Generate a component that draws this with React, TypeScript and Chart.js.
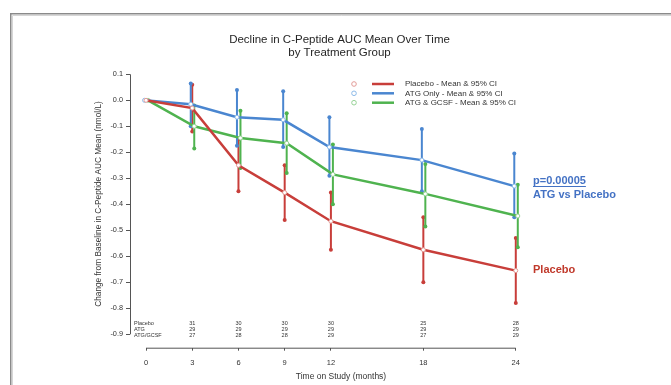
import React, { useEffect, useRef } from "react";
import { Chart, registerables } from "chart.js";

Chart.register(...registerables);

// ---------- data ----------
const months = [0, 3, 6, 9, 12, 18, 24];
const xTickValues = [0, 3, 6, 9, 12, 18, 24];
const yTickValues = [0.1, 0, -0.1, -0.2, -0.3, -0.4, -0.5, -0.6, -0.7, -0.8, -0.9];

const seriesLabels = [
  "Placebo - Mean & 95% CI",
  "ATG Only - Mean & 95% CI",
  "ATG & GCSF - Mean & 95% CI",
];

const placeboMean = [0, -0.03, -0.25, -0.355, -0.465, -0.575, -0.655];
const placeboUpper = [0, 0.06, -0.15, -0.25, -0.355, -0.45, -0.53];
const placeboLower = [0, -0.12, -0.35, -0.46, -0.575, -0.7, -0.78];

const atgMean = [0, -0.015, -0.065, -0.075, -0.18, -0.23, -0.33];
const atgUpper = [0, 0.065, 0.04, 0.035, -0.065, -0.11, -0.205];
const atgLower = [0, -0.1, -0.175, -0.18, -0.29, -0.35, -0.45];

const gcsfMean = [0, -0.1, -0.145, -0.165, -0.285, -0.36, -0.445];
const gcsfUpper = [0, -0.02, -0.04, -0.05, -0.17, -0.245, -0.325];
const gcsfLower = [0, -0.185, -0.26, -0.28, -0.4, -0.485, -0.565];

const riskRowLabels = ["Placebo", "ATG", "ATG/GCSF"];
const nPlacebo = [null, 31, 30, 30, 30, 25, 28];
const nAtg = [null, 29, 29, 29, 29, 29, 29];
const nGcsf = [null, 27, 28, 28, 29, 27, 29];

const titleLines = ["Decline in C-Peptide AUC Mean Over Time", "by Treatment Group"];
const yAxisTitle = "Change from Baseline in C-Peptide AUC Mean (nmol/L)";
const xAxisTitle = "Time on Study (months)";
const pValueText = "p=0.00005";
const comparisonText = "ATG vs Placebo";
const placeboTag = "Placebo";

// ---------- styles ----------
const FONT = '"Liberation Sans", Arial, sans-serif';
const COLORS = ["#c83e3a", "#4a86d0", "#4fb34f"];
const LIGHT = ["#e39b97", "#8dbbea", "#97d397"];
const DX = [0, -1.5, 2];

const series = [
  { label: seriesLabels[0], mean: placeboMean, upper: placeboUpper, lower: placeboLower },
  { label: seriesLabels[1], mean: atgMean, upper: atgUpper, lower: atgLower },
  { label: seriesLabels[2], mean: gcsfMean, upper: gcsfUpper, lower: gcsfLower },
];
const riskRows = [nPlacebo, nAtg, nGcsf];

const overlayPlugin = {
  id: "overlay",
  beforeDraw(chart: any) {
    const { ctx, width, height } = chart;
    ctx.save();
    ctx.fillStyle = "#fff";
    ctx.fillRect(0, 0, width, height);
    ctx.strokeStyle = "#8a8a8a";
    ctx.lineWidth = 1.5;
    ctx.beginPath();
    ctx.moveTo(10.75, height);
    ctx.lineTo(10.75, 13.75);
    ctx.lineTo(width, 13.75);
    ctx.stroke();
    ctx.strokeStyle = "#d6d6d6";
    ctx.lineWidth = 1;
    ctx.beginPath();
    ctx.moveTo(12.5, height);
    ctx.lineTo(12.5, 15.5);
    ctx.lineTo(width, 15.5);
    ctx.stroke();
    ctx.restore();
  },
  afterDatasetsUpdate(chart: any) {
    const xs = chart.scales.x;
    chart.data.datasets.forEach((_: any, di: number) => {
      const meta = chart.getDatasetMeta(di);
      meta.data.forEach((pt: any, j: number) => {
        pt.x = xs.getPixelForValue(months[j]) + DX[di];
      });
    });
  },
  beforeDatasetsDraw(chart: any) {
    const { ctx, chartArea } = chart;
    const xs = chart.scales.x;
    const ys = chart.scales.y;
    ctx.save();
    // axis lines
    ctx.strokeStyle = "#555";
    ctx.lineWidth = 1;
    ctx.beginPath();
    ctx.moveTo(chartArea.left + 0.5, ys.getPixelForValue(yTickValues[0]));
    ctx.lineTo(chartArea.left + 0.5, ys.getPixelForValue(yTickValues[yTickValues.length - 1]));
    ctx.stroke();
    ctx.beginPath();
    ctx.moveTo(xs.getPixelForValue(xTickValues[0]), chartArea.bottom + 0.5);
    ctx.lineTo(xs.getPixelForValue(xTickValues[xTickValues.length - 1]), chartArea.bottom + 0.5);
    ctx.stroke();
    // error bars
    series.forEach((s, si) => {
      ctx.strokeStyle = COLORS[si];
      ctx.fillStyle = COLORS[si];
      ctx.lineWidth = 2;
      months.forEach((m, i) => {
        if (s.upper[i] === s.lower[i]) return;
        const px = xs.getPixelForValue(m) + DX[si];
        const y1 = ys.getPixelForValue(s.upper[i]);
        const y2 = ys.getPixelForValue(s.lower[i]);
        ctx.beginPath();
        ctx.moveTo(px, y1);
        ctx.lineTo(px, y2);
        ctx.stroke();
        ctx.beginPath();
        ctx.arc(px, y1, 2, 0, Math.PI * 2);
        ctx.fill();
        ctx.beginPath();
        ctx.arc(px, y2, 2, 0, Math.PI * 2);
        ctx.fill();
      });
    });
    ctx.restore();
  },
  afterDraw(chart: any) {
    const { ctx } = chart;
    const xs = chart.scales.x;
    ctx.save();
    // axis titles
    ctx.fillStyle = "#333";
    ctx.textAlign = "center";
    ctx.textBaseline = "middle";
    ctx.font = `8.3px ${FONT}`;
    ctx.save();
    ctx.translate(99, 204);
    ctx.rotate(-Math.PI / 2);
    ctx.fillText(yAxisTitle, 0, 0);
    ctx.restore();
    ctx.font = `8.5px ${FONT}`;
    ctx.fillText(xAxisTitle, 341, 377);

    // number-at-risk table
    const rowY = [323.3, 329.5, 335.8];
    ctx.font = `5.5px ${FONT}`;
    riskRows.forEach((row, ri) => {
      ctx.textAlign = "left";
      ctx.fillText(riskRowLabels[ri], 134, rowY[ri]);
      ctx.textAlign = "center";
      row.forEach((n, i) => {
        if (n === null) return;
        ctx.fillText(String(n), xs.getPixelForValue(months[i]), rowY[ri]);
      });
    });

    // legend
    const legY = [84, 93.3, 102.7];
    ctx.font = `8px ${FONT}`;
    ctx.textAlign = "left";
    seriesLabels.forEach((lab, i) => {
      ctx.strokeStyle = LIGHT[i];
      ctx.lineWidth = 1;
      ctx.beginPath();
      ctx.arc(354, legY[i], 2.3, 0, Math.PI * 2);
      ctx.stroke();
      ctx.strokeStyle = COLORS[i];
      ctx.lineWidth = 2.5;
      ctx.beginPath();
      ctx.moveTo(372, legY[i]);
      ctx.lineTo(394, legY[i]);
      ctx.stroke();
      ctx.fillStyle = "#333";
      ctx.fillText(lab, 405, legY[i]);
    });

    // annotations
    ctx.font = `bold 11px ${FONT}`;
    ctx.fillStyle = "#4472c4";
    ctx.fillText(pValueText, 533, 181);
    const w = ctx.measureText(pValueText).width;
    ctx.strokeStyle = "#4472c4";
    ctx.lineWidth = 1;
    ctx.beginPath();
    ctx.moveTo(533, 186.5);
    ctx.lineTo(533 + w, 186.5);
    ctx.stroke();
    ctx.fillText(comparisonText, 533, 195);
    ctx.fillStyle = "#c0392b";
    ctx.fillText(placeboTag, 533, 269.5);
    ctx.restore();
  },
};

export default function App() {
  const ref = useRef<HTMLCanvasElement>(null);

  useEffect(() => {
    const canvas = ref.current;
    if (!canvas) return;
    Chart.defaults.font.family = FONT;
    const chart = new Chart(canvas, {
      type: "line",
      data: {
        datasets: series.map((s, i) => ({
          label: s.label,
          data: months.map((m, j) => ({ x: m, y: s.mean[j] })),
          borderColor: COLORS[i],
          borderWidth: 2.5,
          pointRadius: 2,
          pointBackgroundColor: "#fff",
          pointBorderColor: LIGHT[i],
          pointBorderWidth: 1,
          tension: 0,
          clip: false,
        })),
      },
      options: {
        responsive: false,
        animation: false,
        events: [],
        layout: { padding: { left: 8, right: 0, top: 0, bottom: 0 } },
        plugins: {
          legend: { display: false },
          tooltip: { enabled: false },
          title: {
            display: true,
            text: titleLines,
            color: "#262626",
            font: { family: FONT, size: 11.5, weight: "normal", lineHeight: "13px" },
            padding: { top: 33.5, bottom: 14.8 },
          },
        },
        scales: {
          x: {
            type: "linear",
            min: -1.04,
            max: 33.75,
            afterFit: (s: any) => {
              s.height = 37.3;
            },
            afterBuildTicks: (s: any) => {
              s.ticks = xTickValues.map((v) => ({ value: v }));
            },
            ticks: {
              autoSkip: false,
              maxRotation: 0,
              padding: 7.3,
              color: "#333",
              font: { family: FONT, size: 7.5 },
              callback: (v: any) => String(v),
            },
            grid: {
              display: true,
              drawOnChartArea: false,
              drawTicks: true,
              tickLength: 3,
              color: "#555",
            },
            border: { display: false },
          },
          y: {
            type: "linear",
            min: -0.9515,
            max: 0.1,
            afterFit: (s: any) => {
              s.width = 122;
            },
            afterBuildTicks: (s: any) => {
              s.ticks = yTickValues.map((v) => ({ value: v }));
            },
            ticks: {
              padding: 3,
              color: "#333",
              font: { family: FONT, size: 7.3 },
              callback: (v: any) => Number(v).toFixed(1),
            },
            grid: {
              display: true,
              drawOnChartArea: false,
              drawTicks: true,
              tickLength: 4,
              color: "#555",
            },
            border: { display: false },
          },
        },
      },
      plugins: [overlayPlugin],
    } as any);
    return () => chart.destroy();
  }, []);

  return (
    <div style={{ position: "absolute", left: 0, top: 0, width: 671, height: 385, background: "#fff" }}>
      <canvas ref={ref} width={671} height={385} style={{ display: "block", width: 671, height: 385 }} />
    </div>
  );
}
